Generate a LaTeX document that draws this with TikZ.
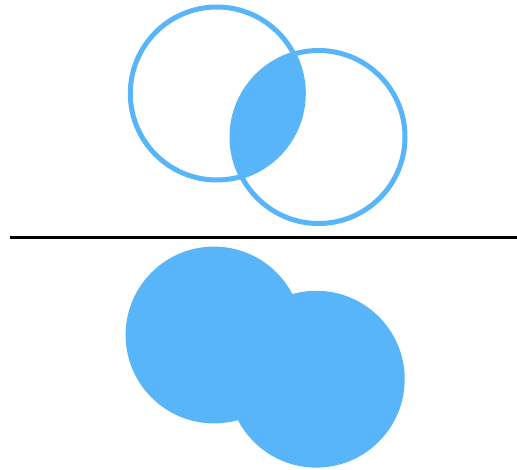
\documentclass[tikz,border=0pt]{standalone}
\definecolor{venn}{RGB}{89,181,250}
\tikzset{ring/.style={draw=venn,line width=5pt}, disc/.style={fill=venn}}
\begin{document}
\begin{tikzpicture}[x=1pt,y=-1pt]
\useasboundingbox (0,0) rectangle (517,470);
% top: intersection
\begin{scope}
\clip (216.8,93.5) circle (86.5);
\fill[venn] (318.5,137) circle (86.5);
\end{scope}
\draw[ring] (216.8,93.5) circle (86.5);
\draw[ring] (318.5,137) circle (86.5);
% separator
\draw[line width=3pt,black] (10,237.3) -- (517,237.3);
% bottom: union
\fill[disc] (214,335) circle (88.4);
\fill[disc] (316.3,379.2) circle (88.4);
\end{tikzpicture}
\end{document}
